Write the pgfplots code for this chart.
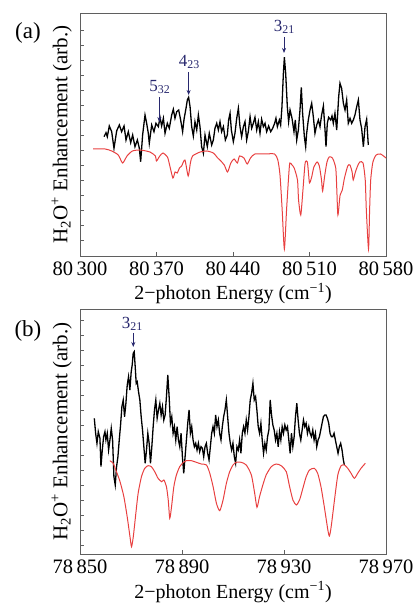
\documentclass[border=0pt]{standalone}
\usepackage{fontspec}
\setmainfont{Liberation Serif}
\usepackage{pgfplots}
\pgfplotsset{compat=1.18}
\usetikzlibrary{arrows.meta}

\definecolor{specred}{RGB}{232,64,64}
\definecolor{navy}{RGB}{40,40,110}
\definecolor{frame}{RGB}{95,95,95}

\pgfplotsset{panel/.style={
  scale only axis, width=306pt,
  ymin=0,
  axis line style={draw=frame, line width=0.7pt}, tick style={draw=frame, line width=0.5pt},
  tick align=inside, xtick pos=bottom, ytick pos=left,
  major tick length=4pt,
  yticklabels={},
  scaled x ticks=false,
  /pgf/number format/1000 sep={\,},
  /pgf/number format/assume math mode=true,
  xticklabel style={font=\fontsize{20.5}{22}\selectfont, yshift=-2pt},
  xlabel style={font=\fontsize{20}{22}\selectfont, yshift=-1pt},
  ylabel style={font=\fontsize{21}{23}\selectfont, at={(axis description cs:-0.015,0.5)}, anchor=south},
  xlabel={2−photon Energy (cm\textsuperscript{−1})},
  ylabel={H\textsubscript{2}O\textsuperscript{+} Enhancement (arb.)},
  clip=false,
}}

\begin{document}
\begin{tikzpicture}
\useasboundingbox (0,0) rectangle (412pt,604pt);

% ---------------- (a)
\begin{axis}[panel, at={(80pt,348pt)}, anchor=south west,
  height=243pt, ymax=243,
  xmin=80300, xmax=80580, xtick={80300,80370,80440,80510,80580},
  ytick={16,31,...,226}]
\addplot[black, line width=1.3pt] coordinates {
(80322.0,119.3) (80323.8,123.3) (80325.0,119.3) (80326.8,130) (80329.0,124.3)
(80331.1,107.7) (80333.6,125.3) (80336.0,131) (80338.1,124.3) (80340.3,130)
(80342.1,116) (80344.2,124.3) (80346.4,113.3) (80348.2,121) (80350.3,109.3)
(80352.5,116) (80354.3,107.7) (80355.5,94.3) (80357.3,121) (80359.5,141)
(80361.0,132.7) (80362.5,122.7) (80363.4,112.7) (80365.6,131) (80367.7,124.3)
(80369.5,132.7) (80371.7,129.3) (80373.2,138.7) (80374.7,130) (80376.3,137.7)
(80377.8,122.7) (80379.9,132.7) (80381.7,127.7) (80383.9,141) (80385.4,146.7)
(80386.9,137.7) (80388.5,144.3) (80390.3,146) (80392.1,136) (80393.9,124.3)
(80395.2,136.7) (80397.0,147.7) (80398.2,156) (80399.4,158.7) (80400.7,149.3)
(80402.2,129.3) (80403.7,120) (80405.2,134.3) (80406.8,126) (80408.3,141)
(80409.8,129.3) (80411.3,109.3) (80412.9,102.7) (80414.4,121) (80416.5,109.3)
(80418.3,122.7) (80420.5,111) (80422.0,116) (80423.5,127.7) (80425.1,132.7)
(80426.6,126) (80428.1,134.3) (80429.6,124.3) (80431.2,129.3) (80433.0,116)
(80434.8,121) (80436.0,136) (80437.3,142.7) (80438.5,126) (80440.3,114.3)
(80441.8,122.7) (80443.4,137.7) (80444.9,147.7) (80446.4,129.3) (80447.9,119.3)
(80449.5,129.3) (80451.0,134.3) (80452.5,116) (80454.0,124.3) (80455.6,139.3)
(80457.1,127.7) (80458.6,132.7) (80460.1,138.7) (80461.7,126) (80463.2,134.3)
(80464.7,122.7) (80466.2,136.7) (80467.8,129.3) (80469.3,132.7) (80470.8,124.3)
(80472.6,130) (80474.5,124.3) (80476.3,127.7) (80478.1,132.7) (80479.3,137.7)
(80480.6,129.3) (80482.4,136) (80483.6,131) (80484.8,149.3) (80486.1,182.7)
(80487.0,198.7) (80488.2,182.7) (80489.7,149.3) (80490.9,134.3) (80492.2,146)
(80494.0,137.7) (80495.8,124.3) (80497.0,136) (80498.3,116) (80499.8,126)
(80501.3,146) (80502.5,168.7) (80503.7,142.7) (80505.3,119.3) (80506.5,109.3)
(80507.4,122.7) (80508.9,136) (80510.5,146) (80512.0,152.7) (80513.5,139.3)
(80515.0,122.7) (80516.6,131) (80518.1,136) (80519.6,129.3) (80521.1,141)
(80522.7,150) (80524.2,126) (80525.1,109.3) (80526.3,132.7) (80527.5,138.7)
(80529.4,136) (80530.6,140) (80531.8,132.7) (80533.3,142.7) (80534.9,126)
(80536.7,159.3) (80537.9,172.7) (80539.4,167.7) (80541.0,152.7) (80542.5,146)
(80544.0,156) (80545.5,132.7) (80547.1,137.7) (80548.6,132.7) (80550.1,136)
(80551.6,141) (80553.2,149.3) (80554.7,156) (80556.2,136) (80557.7,127.7)
(80559.3,109.3) (80560.8,129.3) (80562.3,136.7) (80563.8,111)
};
\addplot[specred, line width=1pt, smooth, tension=0.4] coordinates {
(80312,107) (80323,107) (80329,105) (80335,101) (80339,93) (80343,100)
(80348,105) (80355,106) (80364,104) (80369,100) (80370,95) (80373,100)
(80376,103) (80380,99) (80382,91) (80385,78) (80387,84) (80389,83)
(80391,88) (80393,90) (80396,96) (80399,80) (80401,93) (80403,100)
(80410,104) (80416,105) (80422,103) (80426,98) (80428,96) (80432,91)
(80435,84) (80438,93) (80441,97) (80444,93) (80446,100) (80450,98)
(80453,92) (80456,98) (80460,102) (80469,102) (80478,102) (80481,96)
(80483,81) (80485,46) (80487,7) (80489,46) (80491,81) (80492,93)
(80494,91) (80496,88) (80499,76) (80500,56) (80502,41) (80504,66)
(80506,93) (80508,94) (80509,84) (80510,73) (80512,79) (80514,89)
(80517,94) (80519,90) (80521,76) (80522,65) (80524,81) (80526,94)
(80528,99) (80531,98) (80534,88) (80535,66) (80536,41) (80538,61)
(80540,66) (80542,78) (80545,90) (80547,91) (80549,84) (80550,76)
(80552,84) (80554,90) (80556,94) (80559,93) (80561,76) (80562,46)
(80564,7) (80565,46) (80566,76) (80568,94) (80571,101) (80575,102)
(80580,98)
};
\begin{scope}[navy, line width=0.8pt, -{Stealth[length=5pt,width=4pt]}]
\draw (axis cs:80372.6,159) -- (axis cs:80372.6,134);
\draw (axis cs:80399.4,184) -- (axis cs:80399.4,161);
\draw (axis cs:80486.7,219) -- (axis cs:80486.7,203);
\end{scope}
\node[navy, font=\fontsize{17}{19}\selectfont] at (axis cs:80373,169) {5\textsubscript{32}};
\node[navy, font=\fontsize{17}{19}\selectfont] at (axis cs:80400,194) {4\textsubscript{23}};
\node[navy, font=\fontsize{17}{19}\selectfont] at (axis cs:80487,229) {3\textsubscript{21}};
\node[font=\fontsize{23}{25}\selectfont] at (axis description cs:-0.17,0.918) {(a)};
\end{axis}

% ---------------- (b)
\begin{axis}[panel, at={(80pt,50pt)}, anchor=south west,
  height=245pt, ymax=245,
  xmin=78850, xmax=78970, xtick={78850,78890,78930,78970},
  ytick={9,24,...,234}]
\addplot[black, line width=1.3pt] coordinates {
(78855.61,135.7) (78856.13,120.7) (78856.65,110.7) (78857.17,122.3) (78857.82,115.7)
(78858.22,87.3) (78858.74,104) (78859.26,117.3) (78859.78,122.3) (78860.17,114)
(78860.69,120.7) (78861.21,104) (78861.74,114) (78862.26,125.7) (78862.78,114)
(78863.30,77.3) (78863.82,69) (78864.34,87.3) (78864.87,97.3) (78865.39,114)
(78865.91,129) (78866.43,147.3) (78866.95,154) (78867.47,137.3) (78868.00,150.7)
(78868.52,169) (78869.04,177.3) (78869.56,164) (78870.08,182.3) (78870.47,189)
(78870.86,200.7) (78871.26,202.3) (78871.65,187.3) (78872.04,170.7) (78872.43,172.3)
(78872.95,162.3) (78873.47,154) (78873.99,137.3) (78874.52,124) (78875.04,107.3)
(78875.56,90.7) (78876.08,104) (78876.60,120.7) (78877.12,110.7) (78877.64,90.7)
(78878.17,107.3) (78878.69,127.3) (78879.21,144) (78879.73,154) (78880.25,135.7)
(78880.77,144) (78881.30,150.7) (78881.82,139) (78882.34,147.3) (78882.86,134)
(78883.38,139) (78883.90,157.3) (78884.43,179) (78884.95,157.3) (78885.47,130.7)
(78885.99,137.3) (78886.51,120.7) (78887.03,127.3) (78887.56,114) (78888.08,127.3)
(78888.60,114) (78889.12,107.3) (78889.64,120.7) (78890.16,97.3) (78890.68,80.7)
(78891.21,97.3) (78891.73,114) (78892.25,130.7) (78892.77,144) (78893.29,120.7)
(78893.81,127.3) (78894.34,114) (78894.86,107.3) (78895.38,110.7) (78895.90,104)
(78896.42,110.7) (78896.94,102.3) (78897.47,107.3) (78897.99,105.7) (78898.51,97.3)
(78899.03,107.3) (78899.55,110.7) (78900.07,100.7) (78900.60,94) (78901.12,107.3)
(78901.64,120.7) (78902.16,127.3) (78902.68,120.7) (78903.20,139) (78903.72,127.3)
(78904.25,134) (78904.77,120.7) (78905.29,114) (78905.81,127.3) (78906.33,137.3)
(78906.85,144) (78907.38,154) (78907.90,137.3) (78908.42,120.7) (78908.94,110.7)
(78909.46,104) (78909.98,110.7) (78910.51,97.3) (78911.03,90.7) (78911.55,107.3)
(78912.07,104) (78912.59,114) (78913.11,100.7) (78913.64,120.7) (78914.16,127.3)
(78914.68,120.7) (78915.20,134) (78915.72,124) (78916.24,137.3) (78916.76,154)
(78917.29,160.7) (78917.81,170.7) (78918.33,154) (78918.85,157.3) (78919.37,144)
(78919.89,127.3) (78920.42,120.7) (78920.94,130.7) (78921.46,114) (78921.98,100.7)
(78922.50,110.7) (78923.02,104) (78923.55,117.3) (78924.07,124) (78924.59,154)
(78925.11,139) (78925.63,129) (78926.15,124) (78926.68,114) (78927.20,120.7)
(78927.72,107.3) (78928.24,122.3) (78928.76,114) (78929.28,127.3) (78929.80,120.7)
(78930.33,129) (78930.85,124) (78931.37,127.3) (78931.89,114) (78932.41,100.7)
(78932.93,120.7) (78933.46,107.3) (78933.98,117.3) (78934.50,137.3) (78935.02,150.7)
(78935.54,134) (78936.06,120.7) (78936.59,114) (78937.11,124) (78937.63,134)
(78938.15,127.3) (78938.67,130.7) (78939.19,120.7) (78939.72,127.3) (78940.24,120.7)
(78940.76,117.3) (78941.28,124) (78941.80,114) (78942.32,120.7) (78942.84,107.3)
(78943.37,114) (78943.89,117.3) (78944.41,124) (78944.93,130.7) (78945.45,137.3)
(78945.97,139) (78946.50,139) (78947.02,135.7) (78947.54,130.7) (78948.06,120.7)
(78948.58,117.3) (78949.10,117.3) (78949.63,120.7) (78950.15,114) (78950.67,107.3)
(78951.19,100.7) (78951.71,107.3) (78952.23,110.7) (78952.76,104) (78953.28,94)
(78953.67,89)
};
\addplot[specred, line width=1pt, smooth, tension=0.4] coordinates {
(78861.7,93.3) (78863.0,90.7) (78864.3,82.3) (78865.7,72.3) (78867.2,57.3)
(78868.5,37.3) (78869.6,17.3) (78870.2,7.3) (78870.9,17.3) (78871.9,40.7)
(78872.8,60.7) (78874.1,77.3) (78875.4,85.7) (78876.7,88.3) (78878.0,87.3)
(78879.3,82.3) (78880.6,75.7) (78882.0,72.3) (78882.9,74) (78883.9,67.3)
(78884.6,54) (78885.2,35.7) (78885.9,47.3) (78886.8,67.3) (78887.8,79)
(78889.1,87.3) (78890.4,91.3) (78891.7,93.3) (78893.7,93.3) (78895.6,91.7)
(78897.6,90) (78899.6,89) (78900.9,80.7) (78902.2,67.3) (78903.5,50.7)
(78904.8,43.3) (78906.1,54) (78907.4,70.7) (78908.7,82.3) (78910.0,89)
(78911.3,91.7) (78913.2,91.7) (78915.2,89) (78917.2,79) (78918.5,60.7)
(78919.4,46.7) (78920.4,57.3) (78921.7,69) (78923.0,79) (78925.0,87.3)
(78926.9,90) (78928.9,88.3) (78930.9,82.3) (78932.2,67.3) (78933.5,54)
(78934.8,49) (78936.1,54) (78937.4,65.7) (78938.7,77.3) (78940.0,84)
(78941.9,85.7) (78943.2,80.7) (78944.5,67.3) (78945.8,47.3) (78947.2,24)
(78947.8,18) (78948.5,27.3) (78949.8,54) (78951.1,79) (78952.4,88.3)
(78953.7,89) (78955.0,85.7) (78956.3,80.7) (78957.6,75.7) (78958.9,80.7)
(78960.2,85.7) (78961.9,90.7)
};
\draw[navy, line width=0.8pt, -{Stealth[length=5pt,width=4pt]}]
  (axis cs:78870.9,221) -- (axis cs:78870.9,207);
\node[navy, font=\fontsize{17}{19}\selectfont] at (axis cs:78870.5,230) {3\textsubscript{21}};
\node[font=\fontsize{23}{25}\selectfont] at (axis description cs:-0.17,0.91) {(b)};
\end{axis}
\end{tikzpicture}
\end{document}
